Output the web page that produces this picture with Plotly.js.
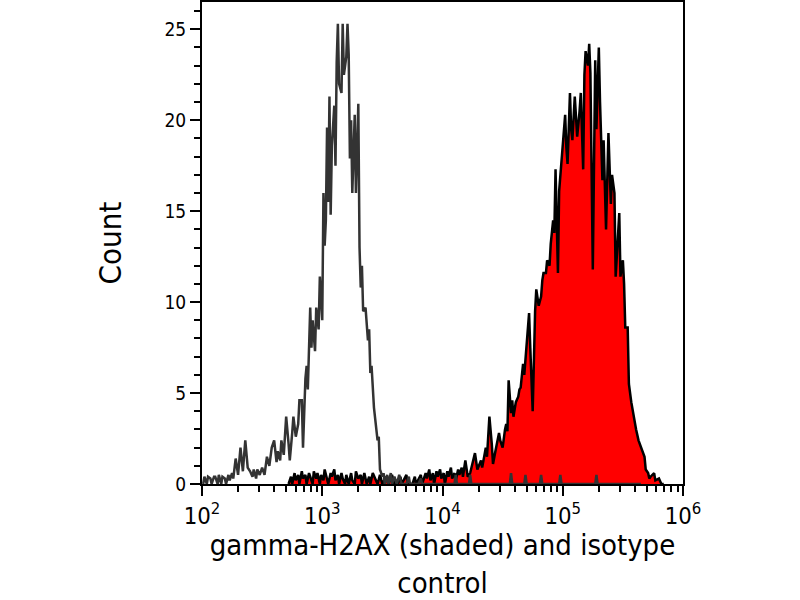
<!DOCTYPE html>
<html>
<head>
<meta charset="utf-8">
<script src="https://cdn.plot.ly/plotly-3.0.1.min.js"></script>
<style>
  html, body { margin: 0; padding: 0; background: #fff; }
  #chart { width: 800px; height: 600px; }
</style>
</head>
<body>
<div id="chart"></div>
<script>
// channel positions are given as log10 of the intensity
const isoExp = [2.01, 2.02, 2.04, 2.05, 2.07, 2.08, 2.10, 2.11, 2.13, 2.14, 2.16, 2.17, 2.19, 2.20, 2.22, 2.23, 2.25, 2.26,
  2.28, 2.30, 2.32, 2.34, 2.36, 2.38, 2.40, 2.42, 2.43, 2.45, 2.46, 2.48, 2.50, 2.52, 2.54, 2.56, 2.58, 2.60,
  2.62, 2.63, 2.65, 2.66, 2.68, 2.70, 2.72, 2.73, 2.75, 2.76, 2.78, 2.80, 2.81, 2.83, 2.84, 2.86, 2.87, 2.88,
  2.90, 2.91, 2.92, 2.94, 2.95, 2.97, 2.98, 3.00, 3.01, 3.02, 3.03, 3.04, 3.05, 3.06, 3.07, 3.08, 3.10, 3.11,
  3.12, 3.13, 3.14, 3.16, 3.17, 3.18, 3.20, 3.21, 3.22, 3.23, 3.24, 3.25, 3.27, 3.28, 3.30, 3.31, 3.32, 3.33,
  3.34, 3.36, 3.38, 3.39, 3.40, 3.41, 3.43, 3.44, 3.46, 3.47, 3.48, 3.50, 3.51, 3.52, 3.54, 3.55, 3.57, 3.58,
  3.60, 3.62, 3.64, 3.66, 3.70, 3.72, 3.73, 3.80, 3.82, 3.83, 4.10, 4.11, 4.12, 4.22, 4.23, 4.24, 4.56, 4.57,
  4.58, 4.68, 4.69, 4.70, 4.81, 4.82, 4.83, 4.97, 4.98, 4.99, 5.27, 5.28, 5.29, 5.65];
const isoCount = [0, 0.4, 0, 0.4, 0.3, 0, 0.4, 0.4, 0, 0.5, 0, 0.4, 0.3, 0, 0.5, 0.2, 0.6, 0.3,
  1.4, 0.5, 2.0, 0.7, 2.4, 0.9, 0.7, 0.4, 0.8, 0.3, 0.8, 0.5, 0.9, 0.5, 1.5, 1.0, 2.0, 2.4,
  1.2, 1.8, 1.3, 2.4, 1.6, 3.7, 2.2, 1.3, 2.8, 3.7, 2.6, 3.3, 4.6, 4.6, 2.0, 5.8, 6.5, 5.2,
  9.7, 7.5, 9.0, 7.3, 9.7, 8.5, 11.4, 9.0, 16.0, 13.1, 14.5, 19.6, 15.5, 21.3, 14.8, 18.6, 20.8, 17.5,
  23.2, 25.3, 22.0, 21.5, 25.3, 22.5, 23.5, 25.3, 23.6, 17.9, 20.0, 16.0, 20.3, 16.0, 20.9, 13.0, 10.8, 12.0,
  9.5, 9.7, 7.9, 8.5, 6.1, 6.5, 4.2, 3.5, 2.4, 2.6, 0.8, 0.4, 0.6, 0, 0.5, 0, 0.6, 0,
  0.4, 0, 0.5, 0, 0, 0.4, 0, 0, 0.3, 0, 0, 0.5, 0, 0, 0.5, 0, 0, 0.6,
  0, 0, 0.5, 0, 0, 0.5, 0, 0, 0.5, 0, 0, 0.5, 0, 0];

const h2axExp = [2.72, 2.74, 2.75, 2.77, 2.78, 2.80, 2.81, 2.83, 2.84, 2.86, 2.87, 2.89, 2.90, 2.92, 2.93, 2.95, 2.96, 2.98,
  2.99, 3.01, 3.02, 3.04, 3.05, 3.07, 3.08, 3.10, 3.11, 3.13, 3.14, 3.16, 3.17, 3.19, 3.20, 3.22, 3.24, 3.25,
  3.27, 3.28, 3.30, 3.32, 3.33, 3.35, 3.37, 3.39, 3.40, 3.42, 3.44, 3.46, 3.48, 3.50, 3.53, 3.55, 3.58, 3.60,
  3.63, 3.65, 3.66, 3.70, 3.71, 3.75, 3.77, 3.78, 3.82, 3.83, 3.86, 3.87, 3.89, 3.90, 3.92, 3.93, 3.95, 3.96,
  3.98, 3.99, 4.01, 4.02, 4.04, 4.05, 4.07, 4.08, 4.10, 4.11, 4.13, 4.14, 4.16, 4.17, 4.19, 4.21, 4.23, 4.25,
  4.27, 4.29, 4.32, 4.33, 4.36, 4.37, 4.39, 4.41, 4.42, 4.44, 4.47, 4.48, 4.50, 4.52, 4.53, 4.54, 4.55, 4.57,
  4.58, 4.59, 4.61, 4.63, 4.64, 4.65, 4.67, 4.68, 4.70, 4.72, 4.73, 4.75, 4.77, 4.78, 4.80, 4.82, 4.83, 4.84,
  4.86, 4.87, 4.89, 4.90, 4.92, 4.93, 4.94, 4.96, 4.97, 4.98, 5.00, 5.02, 5.03, 5.04, 5.06, 5.07, 5.08, 5.10,
  5.11, 5.12, 5.14, 5.15, 5.17, 5.18, 5.19, 5.21, 5.22, 5.23, 5.25, 5.27, 5.28, 5.30, 5.31, 5.33, 5.34, 5.36,
  5.38, 5.39, 5.40, 5.41, 5.43, 5.44, 5.46, 5.47, 5.48, 5.50, 5.51, 5.52, 5.54, 5.55, 5.57, 5.59, 5.61, 5.63,
  5.65, 5.68, 5.69, 5.71, 5.72, 5.73, 5.76, 5.77, 5.80, 5.82, 5.84];
const h2axCount = [0, 0.4, 0, 0.6, 0.2, 0.5, 0, 0.7, 0.3, 0.5, 0, 0.6, 0.4, 0, 0.7, 0.3, 0.6, 0,
  0.5, 0.2, 0.8, 0.3, 0, 0.6, 0.4, 0.8, 0.2, 0.5, 0, 0.6, 0.3, 0, 0.5, 0, 0.6, 0.2,
  0, 0.7, 0.3, 0.5, 0, 0.6, 0, 0.4, 0, 0.6, 0.3, 0, 0.5, 0, 0.4, 0, 0.5, 0,
  0, 0.4, 0, 0.5, 0, 0, 0.4, 0, 0.5, 0, 0.6, 0.3, 0.8, 0.2, 0.6, 0, 0.7, 0.4,
  0.8, 0.3, 0.6, 0, 0.7, 0.4, 0.9, 0.3, 0.6, 0.2, 0.8, 0.5, 0.9, 0.4, 1.3, 0.4, 0.6, 1.2,
  1.7, 0.8, 1.3, 0.9, 2.0, 1.5, 3.7, 2.2, 1.1, 1.8, 2.8, 2.4, 2.0, 3.0, 3.3, 2.9, 5.7, 3.9,
  4.6, 3.7, 4.5, 4.8, 5.2, 5.3, 6.6, 6.0, 8.0, 9.4, 7.5, 4.0, 9.5, 10.7, 9.8, 10.3, 11.2, 11.6,
  11.6, 12.3, 12.0, 13.2, 14.5, 13.8, 17.3, 11.6, 16.1, 17.0, 18.6, 20.3, 18.5, 17.6, 21.5, 19.5, 18.9, 21.3,
  20.2, 19.1, 20.5, 21.5, 17.3, 22.5, 23.8, 23.0, 24.2, 22.6, 11.8, 23.3, 19.5, 24.0, 21.0, 16.7, 18.9, 14.0,
  19.3, 16.5, 15.4, 17.0, 16.0, 11.4, 13.5, 14.9, 11.4, 12.3, 11.0, 8.6, 8.6, 5.5, 4.5, 3.7, 3.0, 2.4,
  2.0, 1.5, 0.8, 0.6, 0.3, 0.4, 0.6, 0.2, 0.3, 0, 0];

const xTitle = 'gamma-H2AX (shaded) and isotype<br>control';
const yTitle = 'Count';

const toLin = arr => arr.map(e => Math.pow(10, e));
const FONT = 'DejaVu Sans Condensed, DejaVu Sans, sans-serif';

const traces = [
  {
    x: toLin(h2axExp), y: h2axCount,
    type: 'scatter', mode: 'lines',
    fill: 'tozeroy', fillcolor: '#ff0000',
    line: { color: '#000000', width: 2.5 },
    hoverinfo: 'skip'
  },
  {
    x: toLin(isoExp), y: isoCount,
    type: 'scatter', mode: 'lines',
    line: { color: '#333333', width: 2.5 },
    hoverinfo: 'skip'
  }
];

const layout = {
  width: 800, height: 600,
  margin: { l: 202, r: 117, t: 2, b: 116 },
  paper_bgcolor: '#ffffff', plot_bgcolor: '#ffffff',
  showlegend: false,
  font: { family: FONT, color: '#000000', size: 18 },
  xaxis: {
    type: 'log', range: [2, 6], dtick: 1, exponentformat: 'power',
    showgrid: false, zeroline: false,
    showline: true, mirror: true, linecolor: '#000', linewidth: 2,
    ticks: 'outside', ticklen: 10, tickwidth: 2, tickcolor: '#000',
    minor: { ticks: 'outside', ticklen: 6, tickwidth: 2, tickcolor: '#000', dtick: 'D1', showgrid: false },
    tickfont: { family: FONT, size: 19 },
    title: { text: xTitle, font: { family: FONT, size: 29 }, standoff: 26 }
  },
  yaxis: {
    range: [0, 26.5], dtick: 5,
    showgrid: false, zeroline: false,
    showline: true, mirror: true, linecolor: '#000', linewidth: 2,
    ticks: 'outside', ticklen: 10, tickwidth: 2, tickcolor: '#000',
    minor: { ticks: 'outside', ticklen: 6, tickwidth: 2, tickcolor: '#000', dtick: 1, showgrid: false },
    tickfont: { family: FONT, size: 19 },
    title: { text: yTitle, font: { family: FONT, size: 31 }, standoff: 34 }
  }
};

Plotly.newPlot('chart', traces, layout, { staticPlot: true, displayModeBar: false });
</script>
</body>
</html>
